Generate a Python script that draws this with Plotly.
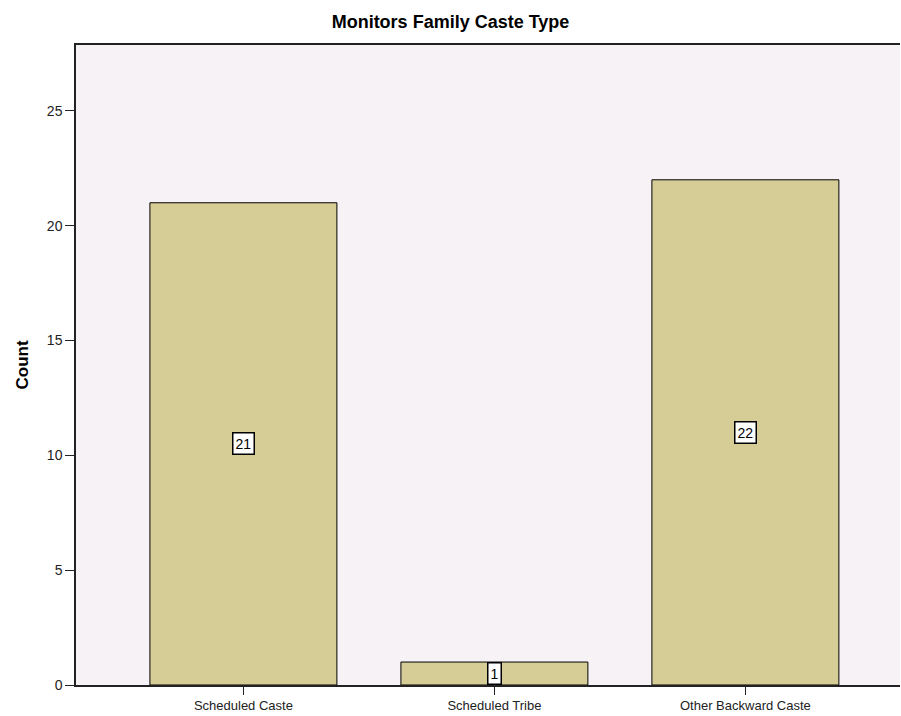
import plotly.graph_objects as go

categories = ["Scheduled Caste", "Scheduled Tribe", "Other Backward Caste"]
counts = [21, 1, 22]
y_ticks = [0, 5, 10, 15, 20, 25]

fig = go.Figure()
fig.add_trace(go.Bar(
    x=list(range(len(categories))), y=counts, width=0.745,
    marker=dict(color="#D6CD96", line=dict(color="#000000", width=1)),
    hoverinfo="skip",
))

for i, c in enumerate(counts):
    fig.add_annotation(x=i, y=c / 2, text=str(c), showarrow=False,
                       bgcolor="white", bordercolor="black", borderwidth=1.5, borderpad=2,
                       font=dict(family="Arial, Liberation Sans", size=14, color="#000"))

fig.add_annotation(text="<b>Count</b>", xref="paper", yref="paper", x=-0.065, y=0.5,
                   xanchor="center", yanchor="middle", textangle=-90, showarrow=False,
                   font=dict(family="Arial, Liberation Sans", size=17, color="#000"))

fig.update_layout(
    width=901, height=716,
    margin=dict(l=76, r=1, t=45, b=31),
    paper_bgcolor="white", plot_bgcolor="#F6F2F6",
    title=dict(text="<b>Monitors Family Caste Type</b>", x=0.5, xanchor="center",
               y=0.969, yanchor="middle",
               font=dict(family="Arial, Liberation Sans", size=18, color="#000")),
    showlegend=False,
    xaxis=dict(range=[-0.667, 2.616], tickvals=list(range(len(categories))), ticktext=categories,
               showgrid=False, zeroline=False, showline=True, linecolor="#222", linewidth=1.5,
               mirror=True, ticks="outside", ticklen=8, tickcolor="#222",
               tickfont=dict(family="Arial, Liberation Sans", size=13, color="#222")),
    yaxis=dict(range=[0, 27.87], tickvals=y_ticks, showgrid=False, zeroline=False,
               showline=True, linecolor="#222", linewidth=1.5, ticks="outside", ticklen=9,
               tickcolor="#222",
               tickfont=dict(family="Arial, Liberation Sans", size=14, color="#222")),
)

fig.write_html("out.html", config={"displayModeBar": False},
               post_script="document.body.style.margin='0';document.body.style.overflow='hidden';")
